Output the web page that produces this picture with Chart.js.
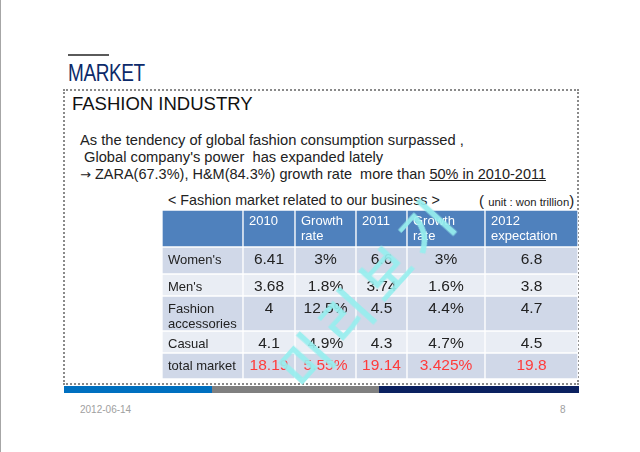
<!DOCTYPE html>
<html>
<head>
<meta charset="utf-8">
<script src="https://cdn.jsdelivr.net/npm/chart.js@4.4.0/dist/chart.umd.min.js"></script>
<style>
  body { margin: 0; width: 640px; height: 452px; background: #fff; position: relative; overflow: hidden;
         font-family: "Liberation Sans", Arial, sans-serif; color: #222; }
  .abs { position: absolute; white-space: nowrap; }
  #leftEdge { left: 0; top: 0; width: 1px; height: 452px; background: #a6a6a6; }
  #rule { left: 68px; top: 54px; width: 41px; height: 2px; background: #5a5a5a; }
  #market { left: 68px; top: 59px; font-size: 24px; color: #0c2a6a; transform: scaleX(0.79); transform-origin: left top; letter-spacing: -0.5px; }
  #box { left: 63px; top: 89px; width: 512px; height: 292px; border: 2px dotted #8a8a8a; }
  #industry { left: 72px; top: 93px; font-size: 18.5px; color: #111; }
  .body { left: 80px; font-size: 14.7px; color: #222; }
  .arrow { font-family: "DejaVu Sans", sans-serif; font-size: 13px; }
  #caption { left: 168px; top: 192px; font-size: 14.3px; color: #222; }
  #unit { left: 479px; top: 192px; font-size: 15px; color: #222; }
  #unit span { font-size: 11.3px; }
  .bar { top: 386px; height: 7px; }
  .foot { top: 404px; font-size: 10px; color: #a0a0a0; }
  #tableWrap { left: 161px; top: 209px; width: 418px; height: 171px; }
  #mark { left: 248px; top: 250px; font-family: "Noto Sans CJK KR", sans-serif; font-weight: 500; font-size: 54px;
          color: rgba(150, 238, 238, 0.92); letter-spacing: 10px; transform: rotate(-48deg); transform-origin: center; }
</style>
</head>
<body>
<div class="abs" id="leftEdge"></div>
<div class="abs" id="rule"></div>
<div class="abs" id="market">MARKET</div>
<div class="abs" id="box"></div>
<div class="abs" id="industry">FASHION INDUSTRY</div>
<div class="abs body" style="top:132px">As the tendency of global fashion consumption surpassed ,</div>
<div class="abs body" style="top:149px;left:84px">Global company's power&nbsp; has expanded lately</div>
<div class="abs body" style="top:166px;font-size:14.5px"><span class="arrow">→</span> ZARA(67.3%), H&amp;M(84.3%) growth rate&nbsp; more than <u>50% in 2010-2011</u></div>
<div class="abs" id="caption">&lt; Fashion market related to our business &gt;</div>
<div class="abs" id="unit">( <span>unit : won trillion</span>)</div>
<div class="abs" id="tableWrap"><canvas id="table" width="418" height="171"></canvas></div>
<div class="abs bar" style="left:64px;width:148px;background:#0070c0"></div>
<div class="abs bar" style="left:212px;width:167px;background:#808080"></div>
<div class="abs bar" style="left:379px;width:200px;background:#0b2160"></div>
<div class="abs foot" style="left:80px">2012-06-14</div>
<div class="abs foot" style="left:560px">8</div>
<div class="abs" id="mark">미리보기</div>

<script>
// 표 데이터
const columns = ['', '2010', 'Growth\nrate', '2011', 'Growth\nrate', '2012\nexpectation'];
const categories = ["Women's", "Men's", 'Fashion\naccessories', 'Casual', 'total market'];
const sales2010 = [6.41, 3.68, 4, 4.1, 18.19];
const growth2010 = [3, 1.8, 12.5, 4.9, 5.55];
const sales2011 = [6.6, 3.74, 4.5, 4.3, 19.14];
const growth2011 = [3, 1.6, 4.4, 4.7, 3.425];
const sales2012 = [6.8, 3.8, 4.7, 4.5, 19.8];

// layout (px)
const colWidths = [81, 52, 61, 51, 78, 93];
const rowHeights = [37, 27, 22, 35, 22, 26];

const headerColor = '#4f81bd';
const rowColors = ['#d0d8e8', '#e9edf4'];

window.onload = function () {

    const tableWidth = colWidths.reduce((a, b) => a + b, 0);
    const tableHeight = rowHeights.reduce((a, b) => a + b, 0);

    // column edges
    const colStart = [];
    let acc = 0;
    colWidths.forEach(w => { colStart.push(acc); acc += w; });

    // row centers
    const rowCenter = [];
    acc = 0;
    rowHeights.forEach(h => { rowCenter.push(acc + h / 2); acc += h; });

    const valueColumns = [sales2010, growth2010, sales2011, growth2011, sales2012];

    function cellText(r, c) {
        if (r === 0) return columns[c];
        if (c === 0) return categories[r - 1];
        const v = valueColumns[c - 1][r - 1];
        return (c === 2 || c === 4) ? v + '%' : String(v);
    }

    const datasets = rowHeights.map((h, r) => ({
        label: r === 0 ? 'header' : categories[r - 1],
        data: colWidths.map((w, c) => ({ y: rowCenter[r], x: [colStart[c], colStart[c] + w] })),
        backgroundColor: r === 0 ? headerColor : rowColors[(r - 1) % 2],
        borderColor: '#ffffff',
        borderWidth: 1,
        borderSkipped: false,
        barThickness: h,
        stack: 'rows'
    }));

    // 셀 글자
    const cellLabels = {
        id: 'cellLabels',
        afterDatasetsDraw(chart) {
            const ctx = chart.ctx;
            ctx.save();
            ctx.textBaseline = 'middle';
            chart.data.datasets.forEach((ds, r) => {
                const meta = chart.getDatasetMeta(r);
                meta.data.forEach((bar, c) => {
                    const p = bar.getProps(['x', 'y', 'base', 'height'], true);
                    const left = Math.min(p.x, p.base);
                    const right = Math.max(p.x, p.base);
                    const top = p.y - p.height / 2;
                    const lines = cellText(r, c).split('\n');
                    let x, align;
                    if (r === 0 || c === 0) {
                        ctx.font = '13px "Liberation Sans", Arial, sans-serif';
                        x = left + 6;
                        align = 'left';
                    } else {
                        ctx.font = '15.5px "Liberation Sans", Arial, sans-serif';
                        x = (left + right) / 2;
                        align = 'center';
                    }
                    ctx.textAlign = align;
                    if (r === 0) ctx.fillStyle = '#ffffff';
                    else if (r === rowHeights.length - 1 && c > 0) ctx.fillStyle = '#ff3b3b';
                    else ctx.fillStyle = '#222222';
                    const first = (r === 0) ? 11 : 13;
                    lines.forEach((t, i) => {
                        ctx.fillText(t, x, top + first + i * 15);
                    });
                });
            });
            ctx.restore();
        }
    };

    const ctx = document.getElementById('table').getContext('2d');
    new Chart(ctx, {
        type: 'bar',
        data: { datasets: datasets },
        options: {
            indexAxis: 'y',
            responsive: false,
            animation: false,
            events: [],
            layout: { padding: 0 },
            plugins: { legend: { display: false }, tooltip: { enabled: false } },
            scales: {
                x: { type: 'linear', min: -1, max: tableWidth + 1, display: false, stacked: false, offset: false },
                y: { type: 'linear', min: -1, max: tableHeight + 1, reverse: true, display: false, offset: false }
            }
        },
        plugins: [cellLabels]
    });
}
</script>
</body>
</html>
